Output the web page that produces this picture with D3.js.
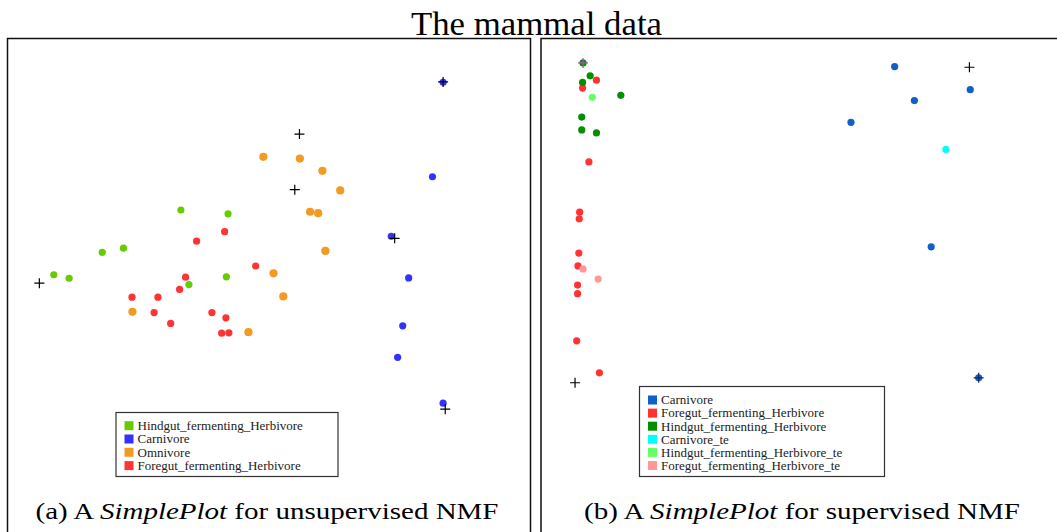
<!DOCTYPE html>
<html>
<head>
<meta charset="utf-8">
<script src="https://cdn.jsdelivr.net/npm/d3@7"></script>
<style>
  body { margin: 0; background: #fff; }
  svg { display: block; }
</style>
</head>
<body>
<script>
// ---- data (unitless NMF coordinates) ----
// panel (a): unsupervised
var hindA = [[35.5,60.0],[46.6,58.9],[22.0,49.1],[17.0,47.9],[5.6,41.5],[9.2,40.5],[46.2,40.9],[37.4,38.7]]
var carnA = [[97.2,96.5],[94.7,69.5],[85.0,52.5],[89.1,40.6],[87.7,26.9],[86.5,17.9],[97.2,4.8]]
var omniA = [[54.9,75.2],[63.5,74.7],[68.8,71.2],[73.0,65.6],[65.9,59.5],[67.8,59.1],[69.5,48.3],[57.3,41.9],[59.6,35.3],[24.1,30.9],[51.4,25.1]]
var foreA = [[45.8,53.8],[39.2,51.1],[53.1,44.0],[36.6,40.8],[35.2,37.3],[24.0,35.1],[30.1,35.1],[29.2,30.7],[33.1,27.6],[42.8,30.7],[46.1,29.2],[45.1,24.8],[46.8,24.9]]
var centA = [[63.4,81.7],[62.3,65.8],[85.8,51.9],[2.2,39.1],[97.2,96.6],[97.7,3.1]]

// panel (b): supervised
var carnB = [[77.3,98.0],[95.3,91.0],[82.0,87.7],[66.9,81.1],[86.0,43.4],[97.3,3.7]]
var foreB = [[6.3,93.9],[3.0,91.5],[4.5,69.1],[2.3,53.9],[2.2,51.9],[2.1,41.5],[1.9,37.6],[1.8,31.8],[1.8,29.2],[1.6,14.9],[7.0,5.2]]
var hindB = [[3.1,99.1],[4.8,95.2],[3.0,93.2],[12.1,89.3],[2.8,82.7],[2.8,78.8],[6.3,77.9]]
var carnTeB = [[89.5,72.9]]
var hindTeB = [[5.3,88.7]]
var foreTeB = [[3.1,36.7],[6.7,33.6]]
var centB = [[3.1,99.1],[95.1,97.8],[1.2,2.2],[97.3,3.7]]
var centBColors = ['#9a5aa8', '#000', '#000', '#0d2a6a']

var labelsA = ['Hindgut_fermenting_Herbivore', 'Carnivore', 'Omnivore', 'Foregut_fermenting_Herbivore']
var colorsA = ['#66cc00', '#3333ff', '#f39a22', '#ff3333']
var labelsB = ['Carnivore', 'Foregut_fermenting_Herbivore', 'Hindgut_fermenting_Herbivore',
  'Carnivore_te', 'Hindgut_fermenting_Herbivore_te', 'Foregut_fermenting_Herbivore_te']
var colorsB = ['#1060c8', '#ff3333', '#009000', '#00ffff', '#66ff66', '#ff9999']

var W = 1057, H = 532
var svg = d3.select('body').append('svg').attr('width', W).attr('height', H)

var serif = '"Liberation Serif", "Times New Roman", serif'

svg.append('text')
  .attr('x', 536.5).attr('y', 34.5)
  .attr('text-anchor', 'middle')
  .attr('textLength', 251).attr('lengthAdjust', 'spacingAndGlyphs')
  .style('font-family', serif).style('font-size', '34px')
  .text('The mammal data')

// panel frames (bottom runs off the picture)
svg.append('rect').attr('x', 7.5).attr('y', 38.5).attr('width', 523).attr('height', 520)
  .attr('fill', 'none').attr('stroke', '#111').attr('stroke-width', 1.5)
svg.append('rect').attr('x', 541).attr('y', 38.5).attr('width', 530).attr('height', 520)
  .attr('fill', 'none').attr('stroke', '#111').attr('stroke-width', 1.5)

function panel(g, xr, yr, groups, cents, centColors) {
  var x = d3.scaleLinear().domain([0, 100]).range(xr)
  var y = d3.scaleLinear().domain([0, 100]).range(yr)
  groups.forEach(function (gr) {
    g.selectAll(null).data(gr.pts).enter().append('circle')
      .attr('cx', d => x(d[0])).attr('cy', d => y(d[1]))
      .attr('r', gr.r || 3.6).attr('fill', gr.color)
  })
  g.selectAll(null).data(cents).enter().append('path')
    .attr('d', d => {
      var cx = x(d[0]), cy = y(d[1])
      return 'M' + (cx - 5) + ',' + cy + 'H' + (cx + 5) + 'M' + cx + ',' + (cy - 5) + 'V' + (cy + 5)
    })
    .attr('stroke', (d, i) => centColors ? centColors[i] : '#000')
    .attr('stroke-width', 1.2).attr('fill', 'none')
}

function legend(g, x0, y0, w, h, labels, colors, step, firstRow) {
  g.append('rect').attr('x', x0).attr('y', y0).attr('width', w).attr('height', h)
    .attr('fill', '#fff').attr('stroke', '#333').attr('stroke-width', 1.2)
  var rows = g.selectAll(null).data(labels).enter().append('g')
    .attr('transform', (d, i) => 'translate(' + (x0 + 8.5) + ',' + (firstRow + i * step) + ')')
  rows.append('rect').attr('x', 0).attr('y', -4.5).attr('width', 9).attr('height', 9)
    .attr('fill', (d, i) => colors[i])
  rows.append('text').attr('x', 13).attr('y', 4.3)
    .style('font-family', serif).style('font-size', '13px').attr('fill', '#222')
    .text(d => d)
}

function caption(g, cx, letter, word) {
  var t = g.append('text').attr('x', cx).attr('y', 518.5)
    .attr('text-anchor', 'middle')
    .style('font-family', serif).style('font-size', '24px')
  t.append('tspan').text('(' + letter + ') A ')
  t.append('tspan').style('font-style', 'italic').text('SimplePlot')
  t.append('tspan').text(' for ' + word + ' NMF')
  return t
}

var ga = svg.append('g')
panel(ga, [30, 455], [420, 70], [
  { pts: hindA, color: colorsA[0] },
  { pts: carnA, color: colorsA[1] },
  { pts: omniA, color: colorsA[2], r: 4.1 },
  { pts: foreA, color: colorsA[3] }
], centA)
legend(ga, 116, 412.5, 222, 64, labelsA, colorsA, 13.3, 425.7)
caption(ga, 267, 'a', 'unsupervised').attr('textLength', 463).attr('lengthAdjust', 'spacingAndGlyphs')

var gb = svg.append('g')
panel(gb, [570, 990], [390, 60], [
  { pts: carnB, color: colorsB[0] },
  { pts: foreB, color: colorsB[1] },
  { pts: hindB, color: colorsB[2] },
  { pts: carnTeB, color: colorsB[3] },
  { pts: hindTeB, color: colorsB[4] },
  { pts: foreTeB, color: colorsB[5] }
], centB, centBColors)
legend(gb, 639.5, 386.5, 245, 90, labelsB, colorsB, 13.1, 400)
caption(gb, 802, 'b', 'supervised').attr('textLength', 436).attr('lengthAdjust', 'spacingAndGlyphs')
</script>
</body>
</html>
